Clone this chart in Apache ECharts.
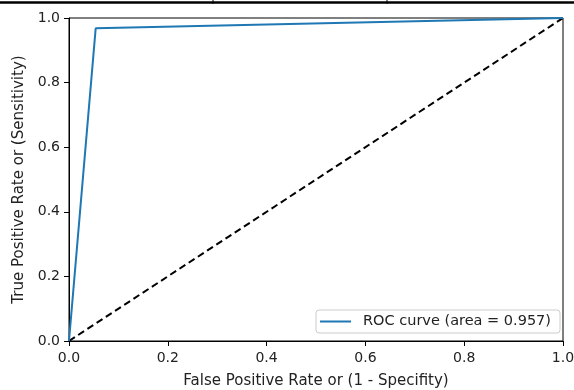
<!DOCTYPE html>
<html><head><meta charset="utf-8">
<script src="https://cdn.jsdelivr.net/npm/echarts@6/dist/echarts.min.js"></script>
<style>html,body{margin:0;padding:0;background:#fff}#c{width:574px;height:390px}</style>
</head><body><div id="c"></div>
<script>
const rocFpr = [0.0, 0.054, 1.0];
const rocTpr = [0.0, 0.968, 1.0];
const diagX = [0.0, 1.0];
const diagY = [0.0, 1.0];
const rocName = 'ROC curve (area = 0.957)';
const xTitle = 'False Positive Rate or (1 - Specifity)';
const yTitle = 'True Positive Rate or (Sensitivity)';

const chart = echarts.init(document.getElementById('c'), null, {renderer:'canvas'});
const font = 'DejaVu Sans';
const axisCommon = {
  type:'value', min:0, max:1, interval:0.2,
  axisLine:{show:true, onZero:false, lineStyle:{color:'#000', width:1}},
  axisTick:{show:true, inside:false, length:5, lineStyle:{color:'#000'}},
  axisLabel:{color:'#222', fontFamily:font, fontSize:14, formatter:v=>v.toFixed(1)},
  splitLine:{show:false},
  nameLocation:'middle',
  nameTextStyle:{color:'#222', fontFamily:font, fontSize:15}
};
chart.setOption({
  animation:false,
  grid:{left:69, right:11, top:18, bottom:49, show:true, borderColor:'#000', borderWidth:1, backgroundColor:'transparent',
        containLabel:false, outerBoundsMode:'none'},
  xAxis:Object.assign({}, axisCommon, {name:xTitle, nameGap:33, axisLabel:Object.assign({}, axisCommon.axisLabel, {margin:10})}),
  yAxis:Object.assign({}, axisCommon, {name:yTitle, nameGap:41, axisLabel:Object.assign({}, axisCommon.axisLabel, {margin:9})}),
  legend:{
    data:[rocName], right:14, bottom:57, orient:'horizontal',
    backgroundColor:'#fff', borderColor:'#ccc', borderWidth:1, borderRadius:3,
    padding:[4,9,4,4], itemWidth:31, itemHeight:2, icon:'rect', itemGap:8,
    textStyle:{color:'#222', fontFamily:font, fontSize:14.5, padding:[0,0,0,7]}
  },
  series:[
    {name:rocName, type:'line', data:rocFpr.map((x,i)=>[x, rocTpr[i]]), showSymbol:false, symbol:'none',
     lineStyle:{color:'#1f77b4', width:2}, itemStyle:{color:'#1f77b4'}, z:3},
    {name:'diag', type:'line', data:diagX.map((x,i)=>[x, diagY[i]]), showSymbol:false, symbol:'none',
     lineStyle:{color:'#000', width:2, type:[7,4]}, itemStyle:{color:'#000'}, z:2}
  ],
  graphic:[
    {type:'line', shape:{x1:0,y1:2.5,x2:574,y2:2.5}, style:{stroke:'#000', lineWidth:2.5}},
    {type:'line', shape:{x1:213,y1:0,x2:213,y2:4}, style:{stroke:'#000', lineWidth:1}},
    {type:'line', shape:{x1:387,y1:0,x2:387,y2:4}, style:{stroke:'#000', lineWidth:1}}
  ]
});
</script></body></html>
